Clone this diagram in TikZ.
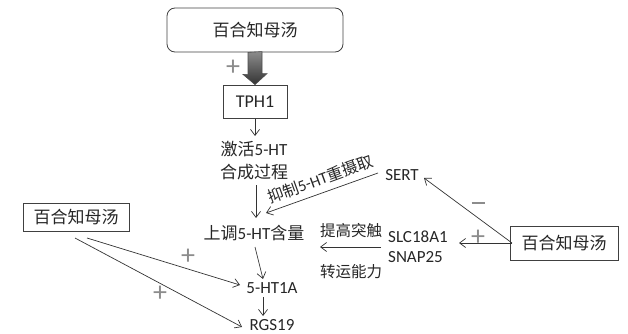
\documentclass[tikz,border=0pt]{standalone}
\usepackage{fontspec}
\setmainfont{Carlito}
\newfontfamily\cjk{Noto Sans CJK SC}
\newcommand{\zh}[1]{{\cjk #1}}
\usetikzlibrary{arrows.meta,calc}
\begin{document}
\begin{tikzpicture}[x=1pt,y=-1pt,
  box/.style={draw=black!75, line width=0.8pt, inner sep=0pt, text=black!85},
  lbl/.style={inner sep=1pt, text=black!85},
  arr/.style={draw=black!80, line width=0.7pt, -{Straight Barb[length=6pt,width=9pt]}},
  sign/.style={inner sep=0pt, text=black!45, font=\fontsize{28}{28}\selectfont}
]
\useasboundingbox (0,0) rectangle (628,334);

% boxes for the decoction
\node[box, rounded corners=8pt, minimum width=176pt, minimum height=44pt,
      font=\fontsize{17}{17}\selectfont] (top) at (255,30) {\zh{百合知母汤}};
\node[box, minimum width=106pt, minimum height=28pt,
      font=\fontsize{17}{17}\selectfont] (lbox) at (76,217) {\zh{百合知母汤}};
\node[box, minimum width=108pt, minimum height=34pt,
      font=\fontsize{17}{17}\selectfont] (rbox) at (564,243) {\zh{百合知母汤}};

% main chain
\node[box, minimum width=64pt, minimum height=33pt,
      font=\fontsize{18}{18}\selectfont] (tph) at (255,101.5) {TPH1};
\node[lbl, align=center, font=\fontsize{17}{23}\selectfont] (act) at (254,161)
  {\zh{激活}5-HT\\\zh{合成过程}};
\node[lbl, font=\fontsize{17}{17}\selectfont] (up) at (254,233) {\zh{上调}5-HT\zh{含量}};
\node[lbl, font=\fontsize{17}{17}\selectfont] (ht) at (272,288) {5-HT1A};
\node[lbl, font=\fontsize{17}{17}\selectfont] (rgs) at (272,325) {RGS19};

% transporters
\node[lbl, font=\fontsize{17}{17}\selectfont] (sert) at (402,175) {SERT};
\node[lbl, anchor=west, align=left, font=\fontsize{17}{20}\selectfont] (slc) at (387,247)
  {SLC18A1\\SNAP25};
\node[lbl, font=\fontsize{15.5}{15.5}\selectfont] (t1) at (351,231) {\zh{提高突触}};
\node[lbl, font=\fontsize{15.5}{15.5}\selectfont] (t2) at (351,272) {\zh{转运能力}};

% thick shaded arrow from the top box to TPH1
\path[draw=black!70, line width=0.6pt, top color=black!45, bottom color=black!80]
  ($(top.south)+(-7,0)$) -- ++(0,22) -- ++(-5,0) -- (tph.north) -- ++(12,-11)
  -- ++(-5,0) -- ++(0,-22) -- cycle;
\node[sign] (p0) at (233,68) {+};

% thin connectors along the chain
\coordinate (tphb) at (255,119);
\coordinate (acttop) at (255,136);
\draw[arr] (tphb) -- (acttop);
\coordinate (actb) at (256,185);
\coordinate (uptop) at (256,218);
\draw[arr] (actb) -- (uptop);
\coordinate (upb) at (255,247);
\coordinate (httop) at (263,279);
\draw[arr] (upb) -- (httop);
\coordinate (htb) at (263,297);
\coordinate (rgstop) at (263,316);
\draw[arr] (htb) -- (rgstop);

% inhibition of reuptake
\coordinate (sertw) at (378,173);
\coordinate (upne) at (266,213);
\draw[arr] (sertw) -- (upne);
\node[inner sep=0pt, text=black!85, rotate=20, font=\fontsize{16}{16}\selectfont]
  (inh) at (320,179) {\zh{抑制}5-HT\zh{重摄取}};

% right-hand decoction effects
\coordinate (rw) at (512,243);
\coordinate (sertse) at (424,178);
\draw[arr] (rw) -- (sertse);
\node[sign] (m1) at (478,203) {\rule{13pt}{1.2pt}};
\coordinate (slce) at (459,243);
\draw[arr] (rw) -- (slce);
\node[sign] (p1) at (478,238) {+};
\coordinate (t1e) at (381,247);
\coordinate (upe) at (320,247);
\draw[arr] (t1e) -- (upe);

% left-hand decoction effects
\coordinate (l1) at (87,238);
\coordinate (l2) at (75,238);
\coordinate (htw) at (240,285);
\coordinate (rgsw) at (242,327);
\draw[arr] (l1) -- (htw);
\draw[arr] (l2) -- (rgsw);
\node[sign] (p2) at (188,257) {+};
\node[sign] (p3) at (160,294) {+};
\end{tikzpicture}
\end{document}
